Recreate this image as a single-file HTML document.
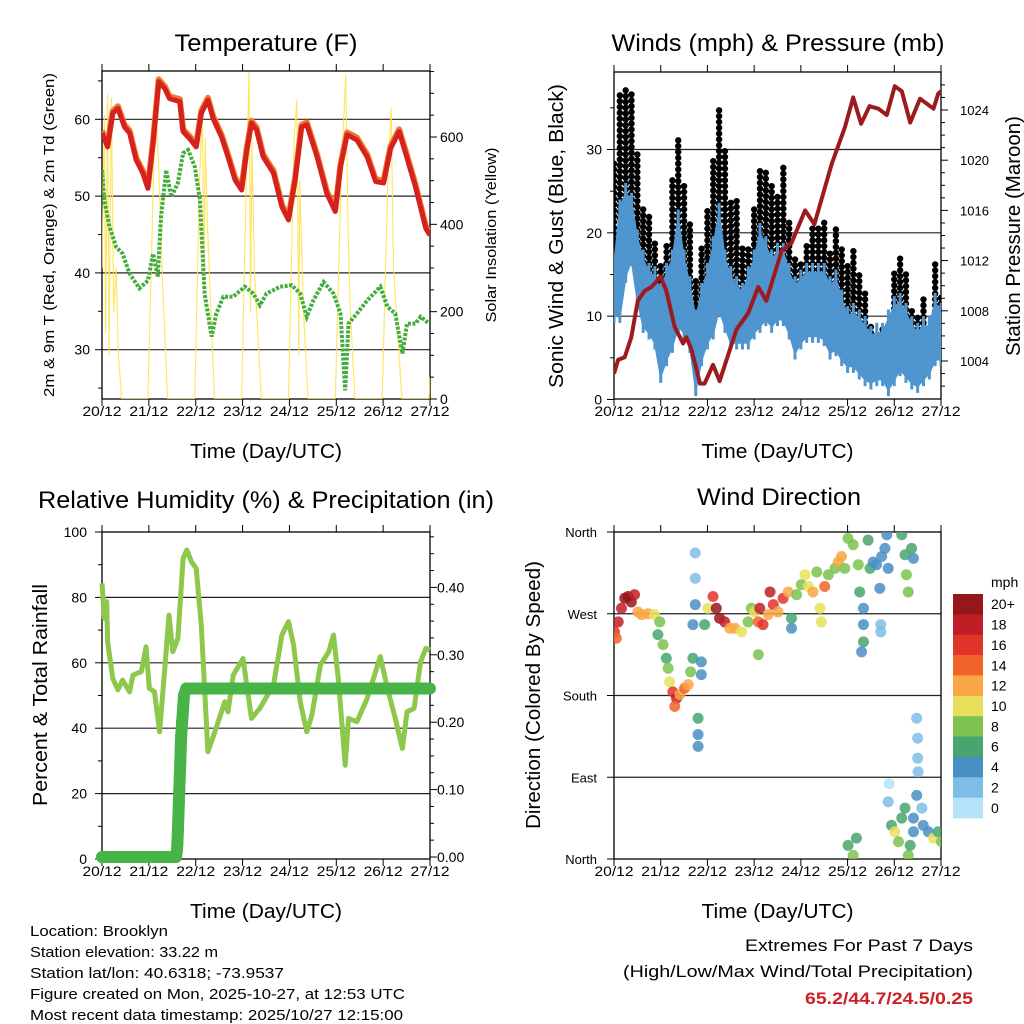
<!DOCTYPE html>
<html><head><meta charset="utf-8"><title>Brooklyn Weather</title>
<style>
html,body{margin:0;padding:0;background:#fff;}
svg{display:block;font-family:"Liberation Sans",Arial,sans-serif;}
</style></head>
<body>
<svg id="fig" width="1024" height="1024" viewBox="0 0 1024 1024" xmlns="http://www.w3.org/2000/svg">
<rect width="1024" height="1024" fill="#fff"/>
</svg>
<script>
// ---------------- DATA ----------------
const dayLabels=['20/12','21/12','22/12','23/12','24/12','25/12','26/12','27/12'];
// Temperature (F)
const tempT=[0,0.12,0.23,0.34,0.48,0.59,0.73,0.87,0.98,1.09,1.21,1.34,1.44,1.66,1.73,1.87,2.01,2.12,2.26,2.37,2.55,2.69,2.84,2.98,3.09,3.19,3.3,3.44,3.66,3.84,3.98,4.12,4.26,4.37,4.59,4.8,4.98,5.09,5.23,5.44,5.66,5.84,6.01,6.16,6.34,6.48,6.69,6.91,7.0];
const tempV=[58.2,56.4,60.8,61.4,59.0,58.2,54.7,53,51,56.9,64.9,64,62.7,62.3,58.4,57.5,56.4,60.8,62.5,60.1,57.7,55.1,52.1,50.8,56,59.5,58.6,55.1,53,48.6,46.9,52.1,59.0,59.3,55.1,50.3,48,53.8,58,57.3,55.1,51.9,51.7,56.2,58.4,55.6,51.2,45.8,44.9];
const dewT=[0,0.05,0.16,0.3,0.44,0.59,0.8,0.98,1.09,1.19,1.26,1.37,1.48,1.62,1.73,1.84,1.98,2.09,2.19,2.34,2.44,2.59,2.8,3.05,3.23,3.37,3.51,3.8,4.05,4.23,4.37,4.51,4.73,4.94,5.09,5.19,5.26,5.44,5.66,5.94,6.09,6.26,6.41,6.51,6.69,6.8,6.98];
const dewV=[53.4,49.5,46,43.4,42.5,39.9,38,39,42.5,39.5,47.3,53.4,49.9,51.7,55.6,56,53.8,49.5,37.3,31.7,34.7,36.9,36.9,38.2,37.3,35.8,37.3,38.2,38.4,37.3,34.3,36.4,38.8,37.3,34.7,24.7,33.4,34.7,36.4,38.2,35.6,34.7,29.5,33.4,33.4,34.3,33.4];
const solarT=[0,0.05,0.08,0.12,0.15,0.2,0.25,0.3,0.35,0.42,0.98,1.05,1.12,1.16,1.22,1.3,1.4,1.98,2.08,2.14,2.18,2.2,2.25,2.4,2.98,3.08,3.14,3.17,3.2,3.25,3.4,3.98,4.1,4.16,4.2,4.22,4.3,4.4,4.98,5.1,5.2,5.25,5.3,5.4,5.98,6.1,6.17,6.22,6.28,6.4,6.98,7.0];
const solarV=[300,650,150,700,100,690,200,300,100,0,0,300,600,646,500,250,0,0,500,662,250,600,400,0,0,500,749,200,600,300,0,0,600,685,100,500,200,0,0,500,742,400,200,0,0,500,666,300,200,0,0,50];
const tempTicks=[30,40,50,60];
const solarTicks=[0,200,400,600];
// Winds (mph), every 3 hours
const windT=[0,0.125,0.25,0.375,0.5,0.625,0.75,0.875,1,1.125,1.25,1.375,1.5,1.625,1.75,1.875,2,2.125,2.25,2.375,2.5,2.625,2.75,2.875,3,3.125,3.25,3.375,3.5,3.625,3.75,3.875,4,4.125,4.25,4.375,4.5,4.625,4.75,4.875,5,5.125,5.25,5.375,5.5,5.625,5.75,5.875,6,6.125,6.25,6.375,6.5,6.625,6.75,6.875,7];
const windHi=[16,22.8,24.8,23.6,19.2,16.8,15.2,14.8,12.8,15.2,16.8,21.6,16.8,13.6,9.6,12.8,15.2,18.4,22.4,16.8,14.8,13.6,12.8,14.8,16.8,20,18.4,16.8,17.6,17.6,15.2,13.6,14.4,15.2,15.2,15.2,15.2,13.6,14.4,12,10,10.4,9.6,8.8,7.6,8,8,9.6,11.2,11.6,10.4,8.8,8,8.8,8.8,11.6,10.4];
const windLo=[10,10,14.8,16.8,12,8.8,8,6.8,2.8,4.8,6.4,8.8,8,6.4,1.2,4.8,6.8,8,10.8,8.8,6.8,6.8,6.8,6.8,8,8.8,9.6,8.8,9.6,9.6,8,5.6,6.8,7.6,7.6,7.6,7.2,5.6,6,4.8,4,4,3.2,2.4,2,2.4,2.4,1.2,2.4,3.6,2.8,2,1.6,2.4,3.2,4.8,4.8];
const gustHi=[28.8,37,37.6,36.8,29.6,22.8,22.4,19.2,16,18.4,26.8,31.2,25.6,21.6,14.8,18.4,22.8,28.8,35.2,30.4,24,24,18.4,18.4,23.2,27.6,27.6,25.6,24.8,28.4,21.6,16.8,16.8,18.4,20.8,20.8,21.6,17.6,20.4,18,16,18,15.2,12.8,8.8,8,8.4,9.2,15.2,17.2,15.2,11.2,10,12,8.8,16.8,12.8];
const presT=[0,0.09,0.23,0.37,0.51,0.66,0.8,1.0,1.12,1.3,1.48,1.55,1.66,1.84,1.94,2.12,2.26,2.62,2.87,3.09,3.26,3.59,3.8,4.09,4.29,4.66,4.94,5.12,5.29,5.47,5.66,5.84,6.01,6.16,6.34,6.55,6.84,6.94,7.0];
const presV=[1003.0,1004.1,1004.3,1005.9,1008.8,1009.6,1009.9,1010.7,1009.6,1006.7,1005.4,1005.9,1004.9,1002.2,1002.2,1003.7,1002.4,1006.5,1007.8,1009.9,1008.8,1012.8,1013.4,1016.0,1014.9,1019.7,1022.6,1025.0,1022.9,1024.3,1024.1,1023.6,1025.9,1025.5,1023.0,1024.9,1024.1,1025.3,1025.5];
const windTicks=[0,10,20,30];
const presTicks=[1004,1008,1012,1016,1020,1024];
// Relative humidity & precip
const rhT=[0,0.05,0.1,0.12,0.23,0.34,0.44,0.59,0.66,0.84,0.94,1.01,1.12,1.23,1.34,1.43,1.51,1.62,1.73,1.81,1.91,2.01,2.12,2.26,2.41,2.62,2.69,2.8,3.01,3.19,3.37,3.66,3.84,3.98,4.09,4.23,4.37,4.48,4.66,4.84,4.94,5.05,5.19,5.26,5.44,5.66,5.94,6.09,6.26,6.41,6.51,6.66,6.8,6.91,7.0];
const rhV=[84.3,73.6,78.7,66.4,55.2,51.7,54.7,51.1,56.2,57.3,64.9,52.2,51.1,38.9,58.3,74.6,63.4,67.5,91.9,94.5,90.9,88.9,71.5,32.8,38.9,48.1,45,56.2,61.3,43,46.1,53.2,68.5,72.6,65.4,48.1,38.9,44,59.3,63.4,68.5,54.2,28.7,43,42,49.1,61.9,52.2,43,33.8,45,46.1,60.3,64.4,63.9];
const precipT=[0,0.2,0.4,0.6,0.8,1.0,1.2,1.4,1.58,1.6,1.61,1.62,1.63,1.64,1.65,1.66,1.67,1.68,1.69,1.7,1.71,1.72,1.73,1.75,1.8];
const precipV=[0,0,0,0,0,0,0,0,0,0.01,0.02,0.04,0.06,0.08,0.1,0.12,0.14,0.16,0.18,0.19,0.2,0.21,0.22,0.24,0.25];
const precipEnd=7.0;
const rhTicks=[0,20,40,60,80,100];
const prTicks=['0.00','0.10','0.20','0.30','0.40'];
// Wind direction (deg) colored by speed (mph)
const dirT=[0.01,0.05,0.09,0.16,0.23,0.3,0.37,0.44,0.51,0.59,0.73,0.87,0.98,0.94,1.05,1.12,1.16,1.19,1.26,1.34,1.3,1.41,1.51,1.59,1.64,1.69,1.69,1.74,1.74,1.74,1.8,1.8,1.8,1.87,1.87,1.94,2.01,2.12,2.19,2.26,2.37,2.48,2.59,2.73,2.87,2.94,3.01,3.09,3.12,3.19,3.3,3.34,3.41,3.51,3.62,3.73,3.8,3.8,3.91,4.01,4.09,4.16,4.26,4.34,4.41,4.44,4.51,4.59,4.73,4.8,4.87,4.94,5.01,5.12,5.23,5.26,5.34,5.34,5.34,5.3,5.44,5.48,5.55,5.62,5.69,5.73,5.8,5.84,5.87,5.71,5.71,6.16,6.23,6.26,6.3,6.37,6.41,3.09,5.01,5.12,5.19,5.87,5.89,5.94,6.01,6.09,6.16,6.23,6.3,6.34,6.41,6.48,6.5,6.5,6.51,6.48,6.59,6.62,6.73,6.84,6.94,7.01,6.41];
const dirV=[250,243,261,276,287,289,283,291,272,269,270,269,261,247,236,221,210,195,184,177,168,181,188,192,206,221,258,280,309,337,155,137,124,217,203,258,276,289,276,265,261,254,254,250,261,276,272,261,276,258,269,294,280,272,287,294,265,254,291,302,313,300,294,316,276,261,300,313,320,327,333,320,353,346,324,294,276,258,239,228,351,320,327,324,298,333,342,357,320,258,250,357,335,313,294,342,331,225,15,4,23,63,83,37,30,19,45,56,4,15,30,155,133,111,96,70,56,37,30,23,30,19,45];
const dirS=[16,14,18,18,20,20,20,18,12,12,12,10,8,6,8,6,8,10,16,18,14,12,14,12,8,6,4,4,2,2,6,4,4,4,4,6,10,16,20,20,18,12,12,10,8,8,10,14,18,16,12,18,16,12,16,12,6,4,8,8,10,10,12,8,10,10,14,8,8,12,12,8,8,8,8,6,4,4,6,4,6,6,4,4,4,4,4,4,4,2,2,6,6,8,8,6,4,8,6,8,6,2,0,6,10,8,6,6,8,6,4,2,2,2,2,4,2,4,4,10,6,8,4];
const dirLabels=['North','West','South','East','North'];
const cbColors=['#96161c','#bf1e26','#e03429','#f26329','#f9a644','#e8e05a','#7dc24f','#48a56f','#4a8fc4','#7dbde6','#b5e2f8'];
const cbLabels=['20+','18','16','14','12','10','8','6','4','2','0'];

// ---------------- HELPERS ----------------
const NS='http://www.w3.org/2000/svg';
const svg=document.getElementById('fig');
function el(tag,attrs,parent){const e=document.createElementNS(NS,tag);for(const k in attrs)e.setAttribute(k,attrs[k]);(parent||svg).appendChild(e);return e;}
function txt(s,x,y,size,anchor,parent,extra){const e=el('text',Object.assign({x:x,y:y,'font-size':size,'text-anchor':anchor||'middle',fill:'#000'},extra||{}),parent);e.textContent=s;return e;}
function mkX(x0,x1){return t=>x0+t*(x1-x0)/7;}
function linY(v0,y0,v1,y1){return v=>y0+(v-v0)*(y1-y0)/(v1-v0);}

function frame(g,x0,y0,x1,y1,name){
  const r=el('rect',{x:x0,y:y0,width:x1-x0,height:y1-y0,fill:'none',stroke:'#000','stroke-width':1.3},g);
  
  
  const X=mkX(x0,x1);
  for(let d=0;d<=7;d++){
    const x=X(d);
    const tk=el('line',{x1:x,y1:y1,x2:x,y2:y1+7,stroke:'#000','stroke-width':1},g);
    
    
    const tt=el('line',{x1:x,y1:y0,x2:x,y2:y0-7,stroke:'#000','stroke-width':1},g);
    
    
    const lb=txt(dayLabels[d],x,y1+17,14,'middle',g,{textLength:39,lengthAdjust:'spacingAndGlyphs'});
    
    
  }
  const xt=txt('Time (Day/UTC)',(x0+x1)/2,y1+59,20,'middle',g,{textLength:152,lengthAdjust:'spacingAndGlyphs'});
  
  
  return X;
}
function path(pts){return pts.map((p,i)=>(i?'L':'M')+p[0].toFixed(1)+','+p[1].toFixed(1)).join(' ');}

// ---------------- PANEL 1: TEMPERATURE ----------------
(function(){
  const g=el('g',{});
  
  
  const x0=102,x1=430,y0=71,y1=399;
  const ty=linY(30,349.7,60,119.3), sy=linY(0,399,600,137);
  const cp=el('clipPath',{id:'c1'},g); el('rect',{x:x0,y:y0,width:x1-x0,height:y1-y0},cp);
  const t=txt('Temperature (F)',266,51,24,'middle',g,{textLength:183,lengthAdjust:'spacingAndGlyphs'});
  
  
  tempTicks.forEach(v=>{
    const gl=el('line',{x1:x0,x2:x1,y1:ty(v),y2:ty(v),stroke:'#222','stroke-width':1.2},g);
    
    
    el('line',{x1:x0-7,x2:x0,y1:ty(v),y2:ty(v),stroke:'#000'},g);
    const l=txt(String(v),x0-12,ty(v)+5,14,'end',g);
    
    
  });
  [25,35,45,55,65].forEach(v=>el('line',{x1:x0-4,x2:x0,y1:ty(v),y2:ty(v),stroke:'#000'},g));
  solarTicks.forEach(v=>{
    el('line',{x1:x1,x2:x1+7,y1:sy(v),y2:sy(v),stroke:'#000'},g);
    const l=txt(String(v),x1+10,sy(v)+5,14,'start',g);
    
    
  });
  [50,100,150,250,300,350,450,500,550,650,700,750].forEach(v=>el('line',{x1:x1,x2:x1+4,y1:sy(v),y2:sy(v),stroke:'#000'},g));
  const yt=txt('2m & 9m T (Red, Orange) & 2m Td (Green)',0,0,15,'middle',g,{transform:'translate(54,235) rotate(-90)',textLength:324,lengthAdjust:'spacingAndGlyphs'});
  
  
  const yt2=txt('Solar Insolation (Yellow)',0,0,15,'middle',g,{transform:'translate(496,235) rotate(-90)',textLength:175,lengthAdjust:'spacingAndGlyphs'});
  
  
  const X=frame(g,x0,y0,x1,y1,'temperature');
  const d=el('g',{'clip-path':'url(#c1)'},g);
  const sol=el('path',{d:path(solarT.map((t,i)=>[X(t),sy(solarV[i])])),fill:'none',stroke:'#fde24f','stroke-width':1.2,'stroke-opacity':0.85},d);
  
  
  const dew=el('path',{d:path(dewT.map((t,i)=>[X(t),ty(dewV[i])])),fill:'none',stroke:'#43ad3e','stroke-width':4,'stroke-dasharray':'3 1.5'},d);
  
  
  const o=el('path',{d:path(tempT.map((t,i)=>[X(t),ty(tempV[i]+0.3)])),fill:'none',stroke:'#f07a28','stroke-width':6,'stroke-linejoin':'round'},d);
  
  
  const r=el('path',{d:path(tempT.map((t,i)=>[X(t),ty(tempV[i])])),fill:'none',stroke:'#d6221f','stroke-width':5,'stroke-linejoin':'round'},d);
  
  
})();

// ---------------- PANEL 2: WINDS ----------------
(function(){
  const g=el('g',{});
  
  
  const x0=614,x1=941,y0=72,y1=399;
  const wy=linY(0,399.5,30,149.5), py=linY(1004,361,1024,110);
  const cp=el('clipPath',{id:'c2'},g); el('rect',{x:x0,y:y0,width:x1-x0,height:y1-y0},cp);
  const t=txt('Winds (mph) & Pressure (mb)',778,51,24,'middle',g,{textLength:333,lengthAdjust:'spacingAndGlyphs'});
  
  
  windTicks.forEach(v=>{
    if(v>0){const gl=el('line',{x1:x0,x2:x1,y1:wy(v),y2:wy(v),stroke:'#222','stroke-width':1.2},g);
    
    }
    el('line',{x1:x0-7,x2:x0,y1:wy(v),y2:wy(v),stroke:'#000'},g);
    const l=txt(String(v),x0-12,wy(v)+5,14,'end',g);
    
    
  });
  [5,15,25,35].forEach(v=>el('line',{x1:x0-4,x2:x0,y1:wy(v),y2:wy(v),stroke:'#000'},g));
  presTicks.forEach(v=>{
    el('line',{x1:x1,x2:x1+7,y1:py(v),y2:py(v),stroke:'#000'},g);
    const l=txt(String(v),x1+19,py(v)+5,13,'start',g);
    
    
  });
  for(let v=1002;v<=1026;v++){if(v%4)el('line',{x1:x1,x2:x1+4,y1:py(v),y2:py(v),stroke:'#000'},g);}
  const yt=txt('Sonic Wind & Gust (Blue, Black)',0,0,20,'middle',g,{transform:'translate(563,236) rotate(-90)',textLength:304,lengthAdjust:'spacingAndGlyphs'});
  
  
  const yt2=txt('Station Pressure (Maroon)',0,0,20,'middle',g,{transform:'translate(1020,236) rotate(-90)',textLength:240,lengthAdjust:'spacingAndGlyphs'});
  
  
  const X=frame(g,x0,y0,x1,y1,'winds');
  const d=el('g',{'clip-path':'url(#c2)'},g);
  const gg=el('g',{fill:'#000'},d);
  
  
  windT.forEach((t,i)=>{
    for(let v=windHi[i]-1;v<=gustHi[i]+0.01;v+=0.7){
      const c=el('circle',{cx:X(t),cy:wy(v),r:3.2},gg);
      
      
    }
  });
  const up=windT.map((t,i)=>[X(t),wy(windHi[i])]), lo=windT.map((t,i)=>[X(t),wy(windLo[i])]).reverse();
  const band=el('path',{d:path(up.concat(lo))+'Z',fill:'#4f95cf',stroke:'#4f95cf','stroke-width':2,'stroke-linejoin':'round'},d);
  
  
  windT.forEach((t,i)=>{
    const s=el('line',{x1:X(t),x2:X(t),y1:wy(windHi[i]+1.2),y2:wy(windLo[i]-0.8),stroke:'#4f95cf','stroke-width':3},d);
    
    
  });
  const pr=el('path',{d:path(presT.map((t,i)=>[X(t),py(presV[i])])),fill:'none',stroke:'#9b1b1e','stroke-width':4,'stroke-linejoin':'round'},d);
  
  
})();

// ---------------- PANEL 3: RH & PRECIP ----------------
(function(){
  const g=el('g',{});
  
  
  const x0=102,x1=430,y0=532,y1=859;
  const ry=linY(0,859,100,532), py=linY(0,857,0.4,587.4);
  const cp=el('clipPath',{id:'c3'},g); el('rect',{x:x0-8,y:y0,width:x1-x0+16,height:y1-y0+8},cp);
  const t=txt('Relative Humidity (%) & Precipitation (in)',266,508,24,'middle',g,{textLength:456,lengthAdjust:'spacingAndGlyphs'});
  
  
  rhTicks.forEach(v=>{
    if(v>0&&v<100){const gl=el('line',{x1:x0,x2:x1,y1:ry(v),y2:ry(v),stroke:'#222','stroke-width':1.2},g);
    
    }
    el('line',{x1:x0-7,x2:x0,y1:ry(v),y2:ry(v),stroke:'#000'},g);
    const l=txt(String(v),x0-15,ry(v)+5,14,'end',g);
    
    
  });
  [10,30,50,70,90].forEach(v=>el('line',{x1:x0-4,x2:x0,y1:ry(v),y2:ry(v),stroke:'#000'},g));
  prTicks.forEach(s=>{
    const v=parseFloat(s);
    el('line',{x1:x1,x2:x1+7,y1:py(v),y2:py(v),stroke:'#000'},g);
    const l=txt(s,x1+7,py(v)+5,14,'start',g);
    
    
  });
  for(let k=1;k<20;k++){if(k%4)el('line',{x1:x1,x2:x1+4,y1:py(k*0.025),y2:py(k*0.025),stroke:'#000'},g);}
  const yt=txt('Percent & Total Rainfall',0,0,20,'middle',g,{transform:'translate(47,695) rotate(-90)',textLength:222,lengthAdjust:'spacingAndGlyphs'});
  
  
  const X=frame(g,x0,y0,x1,y1,'humidity');
  const d=el('g',{'clip-path':'url(#c3)'},g);
  const rh=el('path',{d:path(rhT.map((t,i)=>[X(t),ry(rhV[i])])),fill:'none',stroke:'#8dc74b','stroke-width':5,'stroke-linejoin':'round'},d);
  
  
  const pts=precipT.map((t,i)=>[X(t),py(precipV[i])]);
  pts.push([X(precipEnd),py(precipV[precipV.length-1])]);
  const pl=el('path',{d:path(pts),fill:'none',stroke:'#48b447','stroke-width':12,'stroke-linecap':'round','stroke-linejoin':'round'},d);
  
  
  precipT.forEach((t,i)=>{
    const c=el('circle',{cx:X(t),cy:py(precipV[i]),r:6,fill:'#48b447'},d);
    
    
  });
})();

// ---------------- PANEL 4: WIND DIRECTION ----------------
(function(){
  const g=el('g',{});
  
  
  const x0=614,x1=941,y0=532,y1=859;
  const dy=linY(0,859,360,532);
  const cp=el('clipPath',{id:'c4'},g); el('rect',{x:x0,y:y0,width:x1-x0,height:y1-y0},cp);
  const t=txt('Wind Direction',779,505,24,'middle',g,{textLength:164,lengthAdjust:'spacingAndGlyphs'});
  
  
  dirLabels.forEach((s,k)=>{
    const v=360-k*90;
    if(k>0&&k<4){const gl=el('line',{x1:x0,x2:x1,y1:dy(v),y2:dy(v),stroke:'#222','stroke-width':1.2},g);
    
    }
    el('line',{x1:x0-7,x2:x0,y1:dy(v),y2:dy(v),stroke:'#000'},g);
    const l=txt(s,x0-17,dy(v)+5,13,'end',g);
    
    
  });
  const yt=txt('Direction (Colored By Speed)',0,0,20,'middle',g,{transform:'translate(540,695) rotate(-90)',textLength:268,lengthAdjust:'spacingAndGlyphs'});
  
  
  const X=frame(g,x0,y0,x1,y1,'wind-direction');
  const d=el('g',{'clip-path':'url(#c4)'},g);
  function col(s){let k=10-Math.round(s/2);if(k<0)k=0;if(k>10)k=10;return cbColors[k];}
  dirT.forEach((t,i)=>{
    const c=el('circle',{cx:X(t),cy:dy(dirV[i]),r:5.5,fill:col(dirS[i]),'fill-opacity':0.85},d);
    
    
  });
  // colorbar
  const cb=el('g',{},g);
  
  
  const h=224/11;
  cbColors.forEach((c,k)=>{
    const r=el('rect',{x:953,y:594+k*h,width:30,height:h+0.3,fill:c},cb);
    
    
    const l=txt(cbLabels[k],991,594+k*h+h/2+5,14,'start',cb);
    
    
  });
  const m=txt('mph',991,587,14,'start',cb);
  
  
})();

// ---------------- FOOTER ----------------
(function(){
  const g=el('g',{});
  
  
  const lines=[['Location: Brooklyn',138],['Station elevation: 33.22 m',188],['Station lat/lon: 40.6318; -73.9537',254],['Figure created on Mon, 2025-10-27, at 12:53 UTC',375],['Most recent data timestamp: 2025/10/27 12:15:00',373]];
  lines.forEach((l,i)=>{
    const e=txt(l[0],30,936+i*21,15,'start',g,{textLength:l[1],lengthAdjust:'spacingAndGlyphs'});
    
    
  });
  const g2=el('g',{});
  
  
  const a=txt('Extremes For Past 7 Days',973,951,17,'end',g2,{textLength:228,lengthAdjust:'spacingAndGlyphs'});
  
  
  const b=txt('(High/Low/Max Wind/Total Precipitation)',973,977,17,'end',g2,{textLength:350,lengthAdjust:'spacingAndGlyphs'});
  
  
  const c=txt('65.2/44.7/24.5/0.25',973,1004,17,'end',g2,{textLength:168,lengthAdjust:'spacingAndGlyphs','font-weight':'bold',fill:'#cc2027'});
  
  
})();
</script>
</body></html>
